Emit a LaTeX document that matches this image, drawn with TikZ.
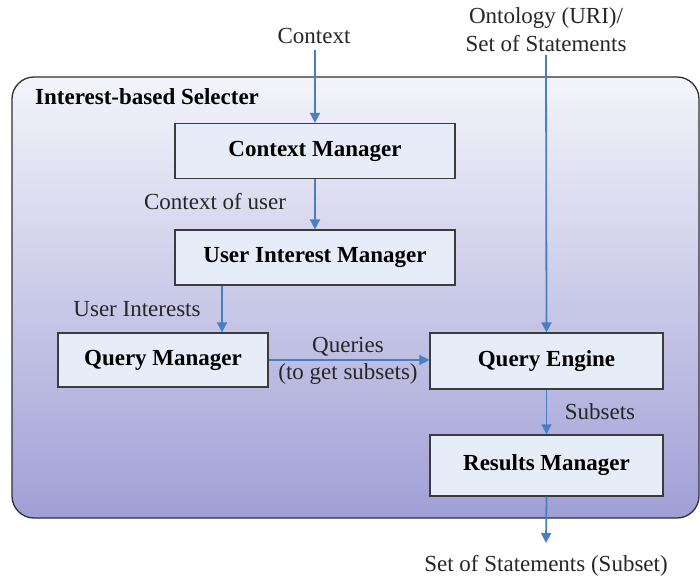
\documentclass[tikz,border=0pt]{standalone}
\usepackage{fontspec}
\setmainfont{Liberation Serif}
\usetikzlibrary{arrows.meta}
\definecolor{arrowblue}{HTML}{4A7EC2}
\definecolor{boxfill}{HTML}{E7EDF8}
\definecolor{boxline}{HTML}{3C3C3C}
\definecolor{gradtop}{HTML}{F4F4FB}
\definecolor{gradbot}{HTML}{A09FD6}
\tikzset{
  procbox/.style={draw=boxline, line width=1.3pt, fill=boxfill, inner sep=0pt,
    font=\fontsize{23}{27}\selectfont\bfseries, anchor=center},
  lbl/.style={font=\fontsize{23}{27}\selectfont, inner sep=0pt, text=black!85},
  flow/.style={draw=arrowblue, line width=1.8pt, -{Triangle[length=10pt,width=10pt]}},
}
\begin{document}
\begin{tikzpicture}[x=1pt,y=-1pt]
\useasboundingbox (0,0) rectangle (700,577);
% outer container
\path[draw=boxline!80!black, line width=1.3pt, top color=gradtop, bottom color=gradbot, rounded corners=22pt]
  (12,77) rectangle (699,518);
\node[anchor=west, font=\fontsize{23}{27}\selectfont\bfseries, inner sep=0pt] (title) at (35,97) {Interest-based Selecter};
% boxes
\node[procbox, minimum width=280pt, minimum height=55pt] (cm) at (315,151) {Context Manager};
\node[procbox, minimum width=280pt, minimum height=55pt] (uim) at (315,257.5) {User Interest Manager};
\node[procbox, minimum width=210pt, minimum height=54pt] (qm) at (163,360) {Query Manager};
\node[procbox, minimum width=233pt, minimum height=56pt] (qe) at (546.5,361) {Query Engine};
\node[procbox, minimum width=233pt, minimum height=61pt] (rm) at (546.5,465.5) {Results Manager};
% external labels
\node[lbl] (ctx) at (314,36) {Context};
\node[lbl, align=center, font=\fontsize{23}{28}\selectfont] (onto) at (546,30) {Ontology (URI)/\\Set of Statements};
\node[lbl] (out) at (546,566) {Set of Statements (Subset)};
\coordinate (ctxend) at (315,50);
\coordinate (ontoend) at (546,55);
\coordinate (outend) at (546,543);
% connectors
\draw[flow] (ctxend) -- (cm.north);
\draw[flow] (cm.south) -- (uim.north);
\draw[flow] ([xshift=-93pt]uim.south) -- ([xshift=59pt]qm.north);
\draw[flow] (qm.east) -- (qe.west |- qm.east);
\draw[flow] (ontoend) -- (qe.north);
\draw[flow] (qe.south) -- (rm.north);
\draw[flow] (rm.south) -- (outend);
% connector labels
\node[lbl] (l1) at (215,202) {Context of user};
\node[lbl] (l2) at (137,309) {User Interests};
\node[lbl, align=center, font=\fontsize{23}{27}\selectfont] (l3) at (348,361) {Queries\\(to get subsets)};
\node[lbl] (l4) at (600,412) {Subsets};
\end{tikzpicture}
\end{document}
